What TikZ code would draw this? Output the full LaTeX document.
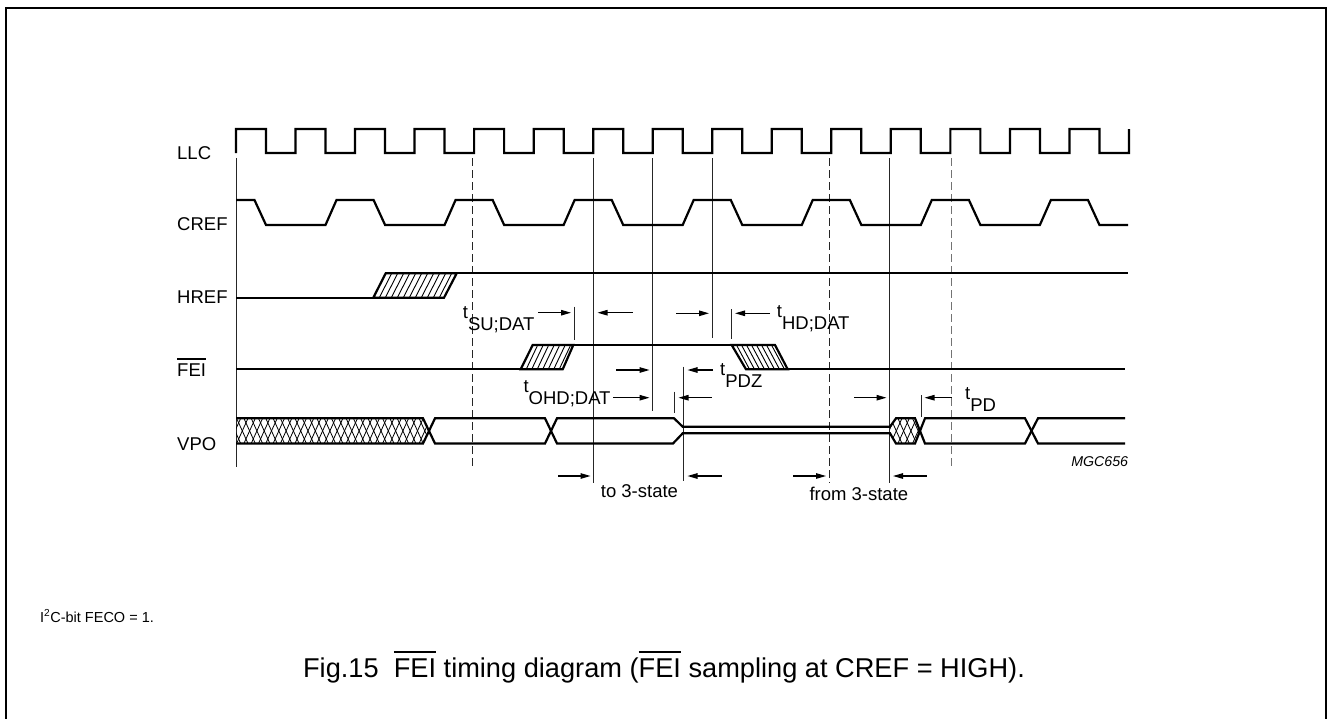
\documentclass[tikz,border=0pt]{standalone}
\usepackage{fontspec}
\setmainfont{Liberation Sans}
\usetikzlibrary{arrows.meta}
\newcommand\ovbar[1]{\leavevmode\vbox{\hrule height 0.07em\kern 0.2em\hbox{#1}}}
\newcommand\tsub[1]{t\raisebox{-12pt}{#1}}
\begin{document}
\begin{tikzpicture}[x=1pt,y=-1pt,
  wave/.style={line width=2.2pt, line join=miter},
  guide/.style={line width=1pt, draw=black!85},
  dguide/.style={guide, dash pattern=on 8pt off 4pt},
  hatchl/.style={line width=0.9pt},
  dimarrow/.style={line width=1.1pt, -{Triangle[length=10pt,width=5.5pt]}},
  lbl/.style={font=\fontsize{18.5}{22}\selectfont, inner sep=0pt, anchor=base west},
]
\useasboundingbox (0,0) rectangle (1327,718);
% frame
\draw[line width=2pt] (6,720) -- (6,8) -- (1325.7,8) -- (1325.7,720);

% guide lines
\draw[guide] (236,158) -- (236,467);
\draw[dguide] (472.7,158) -- (472.7,468);
\draw[guide] (593.5,158) -- (593.5,483);
\draw[guide] (652.7,158) -- (652.7,410.7);
\draw[guide] (712.7,158) -- (712.7,337.7);
\draw[dguide] (829.3,158) -- (829.3,483);
\draw[guide] (889.5,158) -- (889.5,483);
\draw[dguide, draw=black!55] (951.7,158) -- (951.7,467);
% ticks
\draw[guide] (574.3,306.7) -- (574.3,340);
\draw[guide] (731.7,309.3) -- (731.7,339.3);
\draw[guide] (683.8,366.7) -- (683.8,481);
\draw[guide] (674.8,391.7) -- (674.8,413);
\draw[guide] (921,395) -- (921,416.7);

% signal labels
\node[lbl] (llc) at (177,159) {LLC};
\node[lbl] (cref) at (177,230.7) {CREF};
\node[lbl] (href) at (177,303) {HREF};
\node[lbl] (fei) at (177,376) {\ovbar{FEI}};
\node[lbl] (vpo) at (177,450) {VPO};

% LLC
\draw[wave] (236,153) \foreach \k in {0,...,14}{ -- ({236+59.53*\k},129) -- ({266+59.53*\k},129) -- ({266+59.53*\k},153) -- ({295.53+59.53*\k},153)} -- (1128.95,129);

% CREF
\draw[wave] (236,200) -- (254.5,200) -- (266,225) \foreach \j in {0,...,6}{ -- ({325.5+119.06*\j},225) -- ({336.5+119.06*\j},200) -- ({373.6+119.06*\j},200) -- ({385.1+119.06*\j},225)} -- (1128,225);

% HREF
\draw[wave] (236,297.7) -- (373.3,297.7);
\draw[wave] (373.3,297.7) -- (385.7,273.3) -- (456.7,273.3) -- (444,297.7) -- cycle;
\foreach \x in {379.3,385.3,...,440} \draw[hatchl] (\x,297.7) -- ++(12.4,-24.4);
\draw[wave] (456.7,273.3) -- (1128,273.3);

% FEI
\draw[wave] (236,369.3) -- (520.7,369.3);
\draw[wave] (520.7,369.3) -- (532.7,345) -- (573.3,345) -- (562.7,369.3) -- cycle;
\foreach \x in {526.2,531.7,...,560} \draw[hatchl] (\x,369.3) -- ++(11.5,-24.3);
\draw[wave] (573.3,345) -- (731.7,345);
\draw[wave] (731.7,345) -- (775,345) -- (787.7,369.3) -- (746,369.3) -- cycle;
\foreach \x in {736.5,741.5,...,773} \draw[hatchl] (\x,345) -- ++(13,24.3);
\draw[wave] (787.7,369.3) -- (1125,369.3);

% VPO
\begin{scope}
  \clip (236,418.3) -- (423,418.3) -- (429,431) -- (423,443.5) -- (236,443.5) -- cycle;
  \foreach \x in {222,229.3,...,440} {
    \draw[hatchl, line width=0.8pt] (\x,443.5) -- ++(11.4,-25.2);
    \draw[hatchl, line width=0.8pt] (\x,418.3) -- ++(11.4,25.2);
  }
\end{scope}
\draw[wave] (236,418.3) -- (423,418.3) -- (435,443.5) -- (545,443.5) -- (557,418.3) -- (674,418.3) -- (682.7,426.7) -- (890,426.7) -- (896,418.3) -- (915,418.3) -- (925,443.5) -- (1025,443.5) -- (1038,418.3) -- (1125,418.3);
\draw[wave] (236,443.5) -- (423,443.5) -- (435,418.3) -- (545,418.3) -- (557,443.5) -- (673,443.5) -- (682.7,433.3) -- (890,433.3) -- (896,443.5) -- (915,443.5) -- (925,418.3) -- (1025,418.3) -- (1038,443.5) -- (1125,443.5);
\begin{scope}
  \clip (890,426.7) -- (896,418.3) -- (915,418.3) -- (920,431) -- (915,443.5) -- (896,443.5) -- (890,433.3) -- cycle;
  \foreach \x in {876,883.3,...,925} {
    \draw[hatchl, line width=0.8pt] (\x,443.5) -- ++(11.4,-25.2);
    \draw[hatchl, line width=0.8pt] (\x,418.3) -- ++(11.4,25.2);
  }
\end{scope}

% timing labels
\node[lbl] (tsu) at (462.7,318) {\tsub{SU;DAT}};
\node[lbl] (thd) at (776.7,317) {\tsub{HD;DAT}};
\node[lbl] (tpdz) at (720,375) {\tsub{PDZ}};
\node[lbl] (tohd) at (523.3,392.5) {\tsub{OHD;DAT}};
\node[lbl] (tpd) at (965,399.5) {\tsub{PD}};

% dimension arrows
\draw[dimarrow] (538,312.7) -- (571,312.7);
\draw[dimarrow] (632.7,312.7) -- (597.5,312.7);
\draw[dimarrow] (676,313.3) -- (709,313.3);
\draw[dimarrow] (770,313.3) -- (735,313.3);
\draw[dimarrow] (616,370) -- (649.5,370);
\draw[dimarrow] (713,370) -- (687.5,370);
\draw[dimarrow] (613.3,397.7) -- (649.5,397.7);
\draw[dimarrow] (711.7,397.7) -- (678.5,397.7);
\draw[dimarrow] (854.3,397.7) -- (886.5,397.7);
\draw[dimarrow] (951.7,397.7) -- (924.5,397.7);
\draw[dimarrow] (558.3,476) -- (590.5,476);
\draw[dimarrow] (721.7,476) -- (687.5,476);
\draw[dimarrow] (793.3,476) -- (826,476);
\draw[dimarrow] (926.7,476) -- (893,476);

\node[lbl] (to3) at (600.7,497) {to 3-state};
\node[lbl] (from3) at (809.3,500.5) {from 3-state};
\node[inner sep=0pt, anchor=base east, font=\fontsize{14.2}{17}\selectfont\itshape] (mgc) at (1128.3,466) {MGC656};

\node[inner sep=0pt, anchor=base west, font=\fontsize{14.5}{17}\selectfont] (note) at (40,622) {I\textsuperscript{2}C-bit FECO = 1.};
\node[inner sep=0pt, anchor=base, font=\fontsize{27.2}{31}\selectfont] (cap) at (664,677.5) {Fig.15\ \ \ovbar{FEI} timing diagram (\ovbar{FEI} sampling at CREF = HIGH).};
\end{tikzpicture}
\end{document}
